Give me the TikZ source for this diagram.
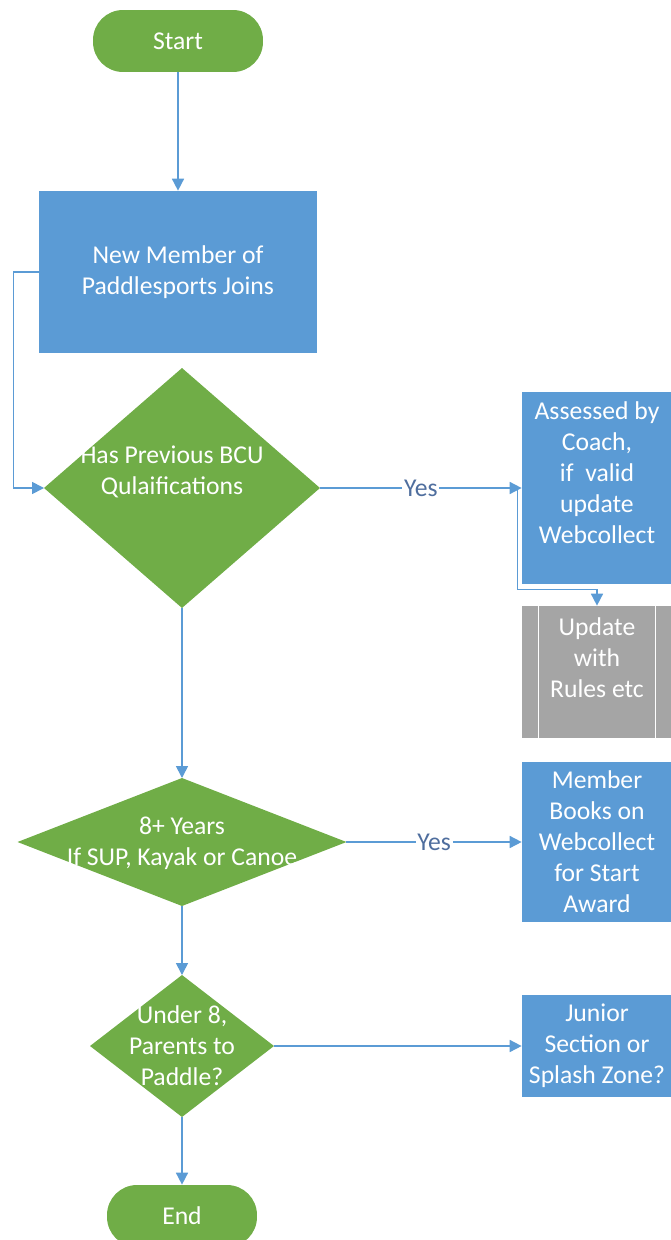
\documentclass[tikz,border=0pt]{standalone}
\usepackage{fontspec}
\setmainfont{Carlito}
\usetikzlibrary{shapes.geometric,arrows.meta}
\definecolor{verde}{HTML}{70AD47}
\definecolor{azul}{HTML}{5B9BD5}
\definecolor{gris}{HTML}{A5A5A5}
\definecolor{etiq}{HTML}{4F6E9E}
\begin{document}
\begin{tikzpicture}[x=0.02cm,y=-0.02cm, % 1 unidad = 1 px de la imagen
  texto/.style={text=white,align=center,inner sep=0pt,font=\fontsize{14.6}{17.6}\selectfont},
  caja/.style={texto,rectangle,fill=azul},
  terminal/.style={texto,rectangle,rounded corners=0.6cm,fill=verde,minimum height=1.24cm},
  rombo/.style={diamond,fill=verde,inner sep=0pt,outer sep=0pt},
  flecha/.style={draw=azul,line width=0.9pt,-{Triangle[length=0.24cm,width=0.24cm]}},
  si/.style={fill=white,text=etiq,inner sep=1pt,font=\fontsize{14.6}{17.6}\selectfont}]
  \useasboundingbox (0,0) rectangle (671,1240);
  \node[terminal,minimum width=3.4cm] (start) at (178,41) {Start};
  \node[caja,minimum width=5.56cm,minimum height=3.24cm] (join) at (178,272) {New Member of\\Paddlesports Joins};
  \node[rombo,minimum width=5.52cm,minimum height=4.8cm] (q1) at (182,488) {};
  \node[texto] (q1t) at (172,472) {Has Previous BCU\\Qulaifications};
  \node[caja,minimum width=3.0cm,minimum height=3.84cm] (assess) at (597,488) {};
  \node[texto] (assesst) at (597,473) {Assessed by\\Coach,\\if\ \ valid\\update\\Webcollect};
  \node[caja,fill=gris,minimum width=3.0cm,minimum height=2.64cm] (upd) at (597,672) {};
  \node[texto] (updt) at (597,658) {Update\\with\\Rules etc};
  \draw[white,line width=0.8pt] ([xshift=0.34cm]upd.north west) -- ([xshift=0.34cm]upd.south west);
  \draw[white,line width=0.8pt] ([xshift=-0.34cm]upd.north east) -- ([xshift=-0.34cm]upd.south east);
  \node[rombo,minimum width=6.58cm,minimum height=2.56cm] (q2) at (182,842) {};
  \node[texto] (q2t) at (182,843) {8+ Years\\If SUP, Kayak or Canoe};
  \node[caja,minimum width=3.0cm,minimum height=3.2cm] (books) at (597,842) {Member\\Books on\\Webcollect\\for Start\\Award};
  \node[rombo,minimum width=3.68cm,minimum height=2.84cm] (q3) at (182,1046) {};
  \node[texto] (q3t) at (182,1046) {Under 8,\\Parents to\\Paddle?};
  \node[caja,minimum width=3.0cm,minimum height=2.04cm] (junior) at (597,1046) {Junior\\Section or\\Splash Zone?};
  \node[terminal,minimum width=3.0cm] (end) at (182,1216) {End};
  \draw[flecha] (start) -- (join);
  \draw[flecha] (join.west) -- ++(-25,0) |- (q1.west);
  \draw[flecha] (q1.east) -- node[si] (si1) {Yes} (assess.west);
  \draw[flecha] ([xshift=-0.08cm]assess.west) |- ([yshift=-0.1cm]assess.south) -| (upd.north);
  \draw[flecha] (q1.south) -- (q2.north);
  \draw[flecha] (q2.east) -- node[si] (si2) {Yes} (books.west);
  \draw[flecha] (q2.south) -- (q3.north);
  \draw[flecha] (q3.east) -- (junior.west);
  \draw[flecha] (q3.south) -- (end.north);
\end{tikzpicture}
\end{document}
